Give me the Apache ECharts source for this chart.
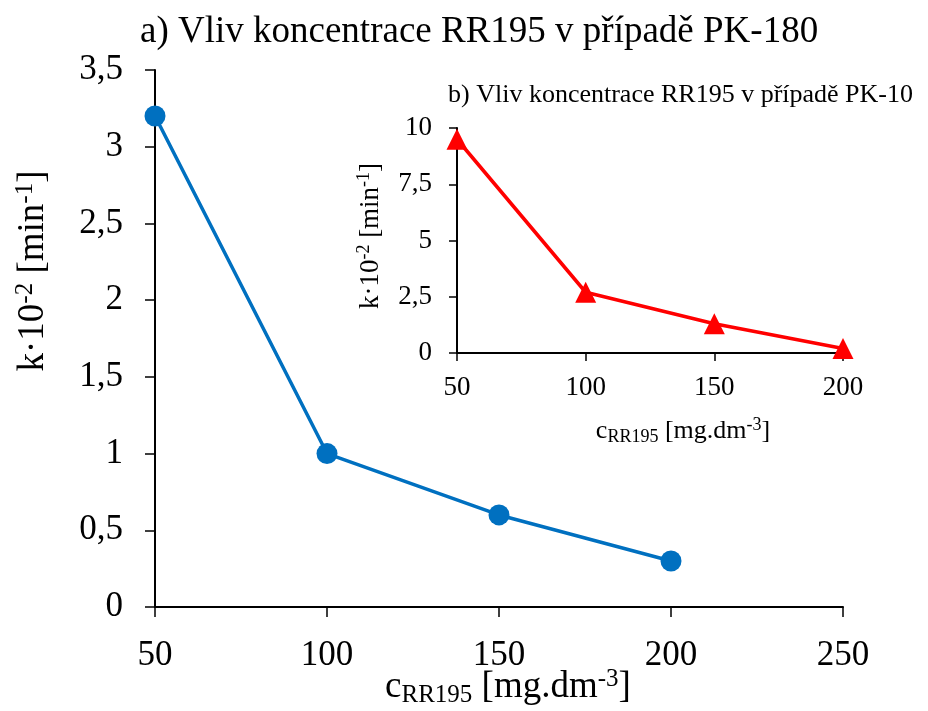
<!DOCTYPE html>
<html>
<head>
<meta charset="utf-8">
<script src="https://cdn.jsdelivr.net/npm/echarts@6/dist/echarts.min.js"></script>
<style>html,body{margin:0;padding:0;background:#fff;}#c{width:928px;height:711px;}</style>
</head>
<body>
<div id="c"></div>
<script>
// Main chart (a) – PK-180
var concA = [50, 100, 150, 200];
var kA = [3.2, 1.0, 0.6, 0.3];
// Inset chart (b) – PK-10
var concB = [50, 100, 150, 200];
var kB = [9.5, 2.7, 1.3, 0.2];

var titleA = 'a) Vliv koncentrace RR195 v případě PK-180';
var titleB = 'b) Vliv koncentrace RR195 v případě PK-10';

var FONT = '"Liberation Serif", "Times New Roman", serif';
function comma(v){ return String(v).replace('.', ','); }
function pairs(xs, ys){ return xs.map(function(x,i){ return [x, ys[i]]; }); }

function richSet(base, small, supShift, subShift){
  return {
    a: {fontFamily: FONT, fontSize: base, color: '#000', lineHeight: base + 4},
    sup: {fontFamily: FONT, fontSize: small, color: '#000', verticalAlign: 'top', padding: [0,0,supShift,0]},
    sub: {fontFamily: FONT, fontSize: small, color: '#000', verticalAlign: 'bottom', padding: [subShift,0,0,0]}
  };
}

var chart = echarts.init(document.getElementById('c'), null, {renderer: 'canvas'});
var axisLineStyle = {color: '#000', width: 2};
chart.setOption({
  animation: false,
  backgroundColor: '#fff',
  grid: [
    {left: 155, right: 85, top: 70, bottom: 104},
    {left: 457, right: 85, top: 128, bottom: 358}
  ],
  xAxis: [
    {gridIndex: 0, type: 'value', min: 50, max: 250, interval: 50,
     axisLine: {show: true, onZero: false, lineStyle: axisLineStyle},
     axisTick: {show: true, length: 10, lineStyle: {color: '#000', width: 1.5}},
     axisLabel: {fontFamily: FONT, fontSize: 35, color: '#000', margin: 31},
     splitLine: {show: false}},
    {gridIndex: 1, type: 'value', min: 50, max: 200, interval: 50,
     axisLine: {show: true, onZero: false, lineStyle: axisLineStyle},
     axisTick: {show: true, length: 8, lineStyle: {color: '#000', width: 1.5}},
     axisLabel: {fontFamily: FONT, fontSize: 27, color: '#000', margin: 21},
     splitLine: {show: false}}
  ],
  yAxis: [
    {gridIndex: 0, type: 'value', min: 0, max: 3.5, interval: 0.5,
     axisLine: {show: true, lineStyle: axisLineStyle},
     axisTick: {show: true, length: 10, lineStyle: {color: '#000', width: 1.5}},
     axisLabel: {fontFamily: FONT, fontSize: 35, color: '#000', margin: 32, formatter: comma},
     splitLine: {show: false}},
    {gridIndex: 1, type: 'value', min: 0, max: 10, interval: 2.5,
     axisLine: {show: true, lineStyle: axisLineStyle},
     axisTick: {show: true, length: 8, lineStyle: {color: '#000', width: 1.5}},
     axisLabel: {fontFamily: FONT, fontSize: 27, color: '#000', margin: 25, formatter: comma},
     splitLine: {show: false}}
  ],
  series: [
    {type: 'line', xAxisIndex: 0, yAxisIndex: 0, data: pairs(concA, kA),
     symbol: 'circle', symbolSize: 21,
     lineStyle: {color: '#0070C0', width: 3.5},
     itemStyle: {color: '#0070C0'}},
    {type: 'line', xAxisIndex: 1, yAxisIndex: 1, data: pairs(concB, kB),
     symbol: 'triangle', symbolSize: [21, 21],
     lineStyle: {color: '#FF0000', width: 3.5},
     itemStyle: {color: '#FF0000'}}
  ],
  graphic: [
    {type: 'text', x: 140, y: 32, style: {text: titleA, fontFamily: FONT, fontSize: 37, fill: '#000', align: 'left', verticalAlign: 'middle'}},
    {type: 'text', x: 448, y: 95, style: {text: titleB, fontFamily: FONT, fontSize: 26, fill: '#000', align: 'left', verticalAlign: 'middle'}},
    {type: 'text', x: 508, y: 687, style: {text: '{a|c}{sub|RR195}{a| [mg.dm}{sup|-3}{a|]}', rich: richSet(37, 25, 7, 11), align: 'center', verticalAlign: 'middle'}},
    {type: 'text', x: 683, y: 431, style: {text: '{a|c}{sub|RR195}{a| [mg.dm}{sup|-3}{a|]}', rich: richSet(26, 18, 5, 8), align: 'center', verticalAlign: 'middle'}},
    {type: 'text', x: 33, y: 271, rotation: Math.PI/2, style: {text: '{a|k·10}{sup|-2}{a| [min}{sup|-1}{a|]}', rich: richSet(37, 25, 7, 11), align: 'center', verticalAlign: 'middle'}},
    {type: 'text', x: 371, y: 236, rotation: Math.PI/2, style: {text: '{a|k·10}{sup|-2}{a| [min}{sup|-1}{a|]}', rich: richSet(27, 18, 5, 8), align: 'center', verticalAlign: 'middle'}}
  ]
});
</script>
</body>
</html>
